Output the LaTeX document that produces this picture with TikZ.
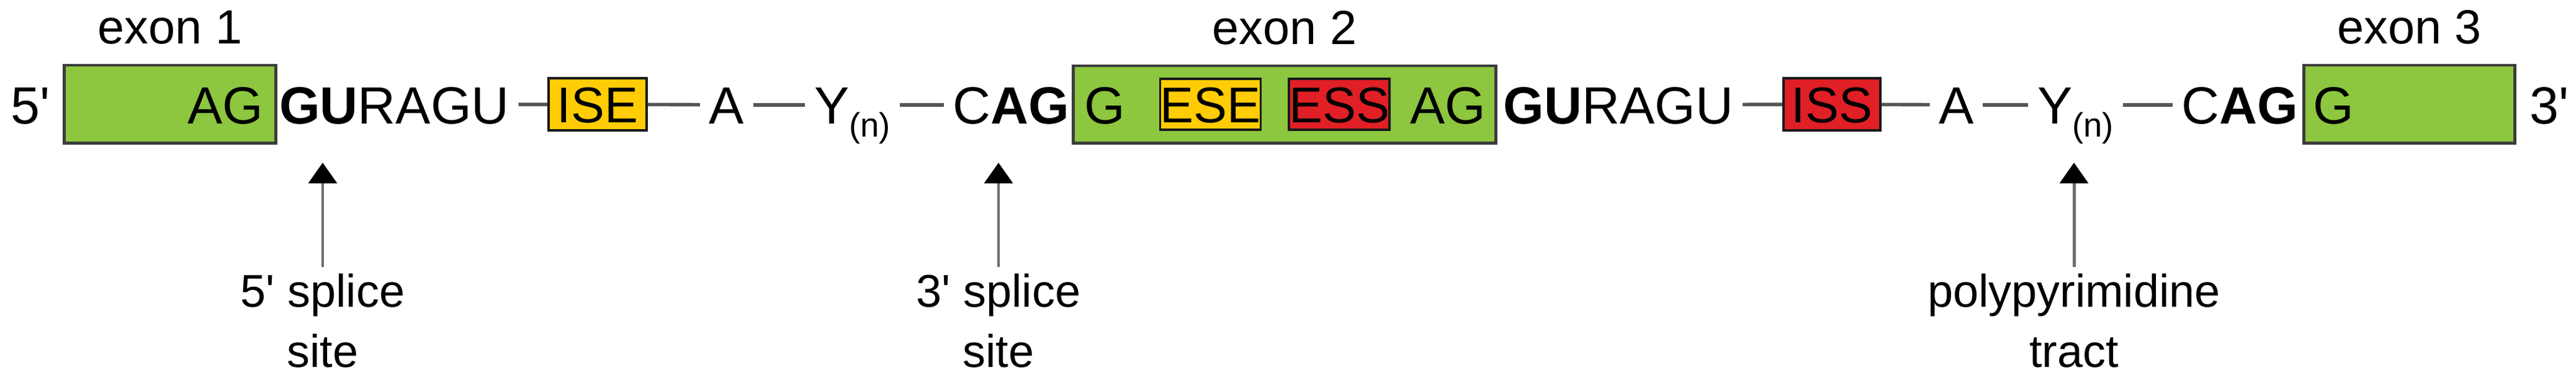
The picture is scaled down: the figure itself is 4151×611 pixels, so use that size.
\documentclass[tikz,border=0pt]{standalone}
\usepackage{fontspec}
\setmainfont{Liberation Sans}
\usetikzlibrary{positioning, arrows.meta}
\usepackage{xcolor}

\definecolor{exongreen}{HTML}{8DC63F}
\definecolor{enhyellow}{HTML}{FFCC05}
\definecolor{silred}{HTML}{E01F26}
\definecolor{linegray}{HTML}{555555}
\definecolor{boxgray}{HTML}{3C3C3C}
\definecolor{shaftgray}{HTML}{6E6E6E}

\newcommand{\prm}{\textquotesingle}
\newcommand{\Yn}{Y\raisebox{-6pt}{\fontsize{15.5}{16}\selectfont(n)}}

\begin{document}
\begin{tikzpicture}[x=0.01cm, y=-0.01cm]
\tikzset{
seq/.style={anchor=base, inner xsep=4pt, inner ysep=0pt, text height=17.2pt, text depth=0pt, font=\fontsize{24}{28}\selectfont}, % letters on the strand
exon/.style={draw=boxgray, line width=1.4pt, fill=exongreen}, % the green exon boxes
elem/.style={draw=black!90, line width=1pt, inner sep=0pt, text height=16.5pt, text depth=0pt, font=\fontsize{23}{28}\selectfont}, % small element boxes
exlab/.style={anchor=base, font=\fontsize{22}{26}\selectfont}, % exon names
site/.style={anchor=north, inner sep=3pt, align=center, font=\fontsize{21}{27.6}\selectfont}, % labels under the arrows
link/.style={draw=linegray, line width=1.6pt}, % intron line
pointer/.style={draw=shaftgray, line width=1.4pt, -{Triangle[width=13pt,length=9.5pt,color=black]}}, % arrows up to the sites
}
	\useasboundingbox (0,0) rectangle (4151,611);

	% exons
	\node[exon, minimum width=3.4cm, minimum height=1.25cm] (ex1) at (274,167.5) {};
	\node[exon, minimum width=6.8cm, minimum height=1.24cm] (ex2) at (2070,168) {};
	\node[exon, minimum width=3.39cm, minimum height=1.25cm] (ex3) at (3882.5,167.5) {};
	\node[exlab] (lab1) at ([yshift=9pt]ex1.north) {exon 1};
	\node[exlab] (lab2) at ([yshift=9pt]ex2.north) {exon 2};
	\node[exlab] (lab3) at ([yshift=9pt]ex3.north) {exon 3};

	% strand
	\node[seq] (end5) at (49,199) {5\prm};
	\node[seq] (ag1) at (363,199) {AG};
	\node[seq] (gu1) at (635.5,199) {\textbf{GU}RAGU};
	\node[elem, fill=enhyellow, minimum width=1.58cm, minimum height=0.84cm] (ise) at (963,168) {ISE};
	\node[seq] (a1) at (1171,199) {A};
	\node[seq] (y1) at (1373.5,199) {\Yn};
	\node[seq] (cag1) at (1629.5,199) {C\textbf{AG}};
	\node[seq] (g2) at (1780,199) {G};
	\node[elem, fill=enhyellow, minimum width=1.57cm, minimum height=0.82cm] (ese) at (1950.5,168) {ESE};
	\node[elem, fill=silred, minimum width=1.56cm, minimum height=0.82cm] (ess) at (2158,168) {ESS};
	\node[seq] (ag2) at (2333.5,199) {AG};
	\node[seq] (gu2) at (2608,199) {\textbf{GU}RAGU};
	\node[elem, fill=silred, minimum width=1.56cm, minimum height=0.84cm] (iss) at (2952,168) {ISS};
	\node[seq] (a2) at (3152.5,199) {A};
	\node[seq] (y2) at (3344.5,199) {\Yn};
	\node[seq] (cag2) at (3609.5,199) {C\textbf{AG}};
	\node[seq] (g3) at (3760,199) {G};
	\node[seq] (end3) at (4108,199) {3\prm};

	\draw[link] (gu1) edge (ise)
	(ise) edge (a1)
	(a1) edge (y1)
	(y1) edge (cag1)
	(gu2) edge (iss)
	(iss) edge (a2)
	(a2) edge (y2)
	(y2) edge (cag2);

	% sites
	\coordinate (t5) at (520,262);
	\coordinate (t3) at (1609,262);
	\coordinate (tpy) at (3342,262);
	\node[site] (lab5) at (520,430) {5\prm{} splice\\site};
	\node[site] (lab3s) at (1609,430) {3\prm{} splice\\site};
	\node[site] (labpy) at (3342,430) {polypyrimidine\\tract};

	\draw[pointer] (lab5) -- (t5);
	\draw[pointer] (lab3s) -- (t3);
	\draw[pointer] (labpy) -- (tpy);
\end{tikzpicture}
\end{document}
